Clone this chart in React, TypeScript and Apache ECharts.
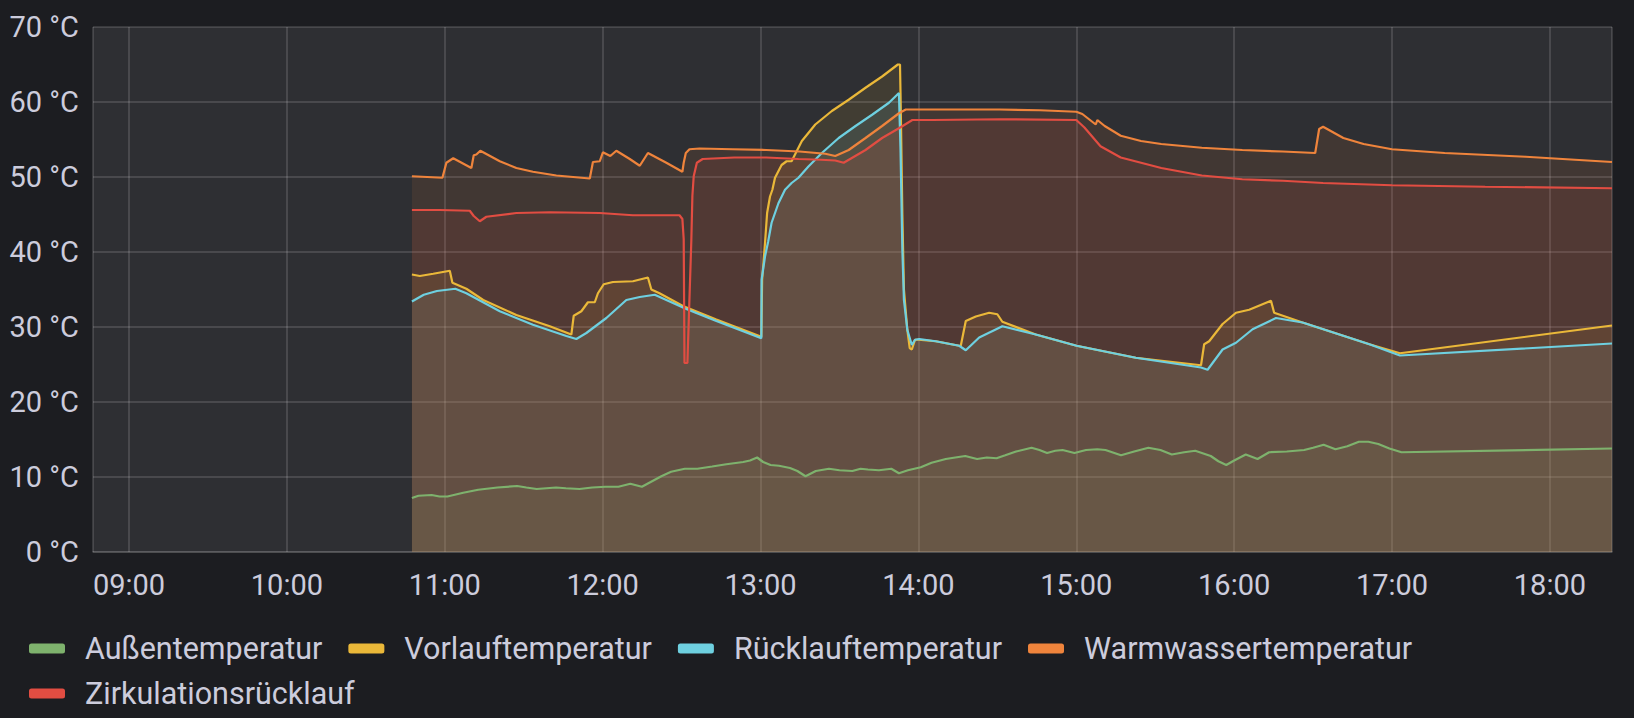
import React, { useEffect, useRef } from 'react';
import * as echarts from 'echarts';

// Series names and colours (legend order)
const SERIES_NAMES = ['Außentemperatur', 'Vorlauftemperatur', 'Rücklauftemperatur', 'Warmwassertemperatur', 'Zirkulationsrücklauf'];
const SERIES_COLORS = ['#7EB26D', '#EAB839', '#6ED0E0', '#EF843C', '#E24D42'];
const LEGEND_ROW_1 = SERIES_NAMES.slice(0, 4);
const LEGEND_ROW_2 = SERIES_NAMES.slice(4);

// [minute of day, °C]
const aussen: [number, number][] = [
  [647.5, 7.2], [650, 7.5], [655, 7.6], [658, 7.4], [661, 7.4], [667, 7.9], [672.7, 8.3], [680, 8.6], [687.5, 8.8],
  [691, 8.6], [694.9, 8.4], [702.3, 8.6], [706, 8.5], [711.2, 8.4], [716, 8.6], [721, 8.7], [726, 8.7], [730.5, 9.1],
  [734.9, 8.7], [742.3, 10.1], [746, 10.7], [751.2, 11.1], [756, 11.1], [761.6, 11.4], [767, 11.7], [773.4, 12.0],
  [776, 12.2], [778.7, 12.6], [781, 12.0], [783.8, 11.6], [787, 11.5], [791.2, 11.2], [794, 10.8], [797.1, 10.1],
  [801, 10.8], [806, 11.1], [810, 10.9], [814.9, 10.8], [818, 11.1], [820.8, 11.0], [825, 10.9], [829.7, 11.1],
  [832.6, 10.5], [836, 10.9], [840.9, 11.3], [845, 11.9], [850.4, 12.4], [854, 12.6], [857.8, 12.8], [862.3, 12.4],
  [866, 12.6], [869.7, 12.5], [873, 12.9], [877.1, 13.4], [883, 13.9], [886, 13.6], [888.9, 13.2], [892, 13.5],
  [894.8, 13.6], [899.3, 13.2], [903.7, 13.6], [908, 13.7], [911.1, 13.6], [917, 12.9], [922, 13.4], [927.4, 13.9],
  [932, 13.6], [936.3, 13.0], [941, 13.3], [945.2, 13.5], [951.1, 12.8], [954, 12.1], [957, 11.6], [960, 12.2],
  [964.4, 13.0], [968.9, 12.4], [973.3, 13.3], [980, 13.4], [986.6, 13.6], [990, 13.9], [994, 14.3], [998.5, 13.7],
  [1003, 14.1], [1007.4, 14.7], [1011, 14.7], [1014.8, 14.4], [1019, 13.8], [1023.6, 13.3], [1103.6, 13.8],
];

const vorlauf: [number, number][] = [
  [647.5, 37.0], [650.5, 36.8], [655.6, 37.1], [661.9, 37.5], [662.9, 35.9], [668.2, 35.1], [674.6, 33.6], [687.2, 31.6],
  [699.9, 30.1], [708.1, 29.0], [709, 31.5], [711.9, 32.1], [714.4, 33.3], [717, 33.3], [718.2, 34.5], [720.4, 35.7],
  [723.9, 36.0], [731.5, 36.1], [737.2, 36.6], [738.5, 35.0], [741.6, 34.5], [750.5, 32.8], [763.2, 31.0], [780.3, 28.7],
  [780.6, 36.3], [781.7, 41.2], [782.5, 45.2], [783.6, 47.4], [784.5, 48.3], [785.5, 49.9], [788, 51.6], [789.9, 52.1],
  [791.8, 52.1], [793.1, 53.0], [795.7, 54.8], [800.8, 57.0], [807.1, 58.8], [813.5, 60.3], [819.9, 61.9], [826.2, 63.4],
  [832.2, 65.0], [833, 65.0], [833.2, 61.2], [833.9, 45.0], [834.5, 35.0], [835.8, 29.6], [836.7, 27.2], [837.5, 27.0],
  [838.7, 28.3], [840, 28.3], [846.6, 28.1], [855.5, 27.5], [856.1, 27.5], [858, 30.8], [861.8, 31.4], [866.9, 31.9],
  [870, 31.7], [871.9, 30.7], [884.6, 29.0], [900.1, 27.5], [922.6, 25.9], [947.4, 24.9], [948.6, 27.7], [950.5, 28.1],
  [955.6, 30.4], [960.7, 31.9], [965.7, 32.3], [974, 33.5], [975.2, 31.9], [986, 30.6], [1011.4, 27.7], [1023, 26.5],
  [1103.6, 30.2],
];

const ruecklauf: [number, number][] = [
  [647.5, 33.4], [652, 34.3], [657, 34.8], [664, 35.1], [668.2, 34.5], [680.9, 32.1], [693.5, 30.3], [706.2, 28.8],
  [710, 28.4], [713.8, 29.2], [721.4, 31.2], [729, 33.6], [734.1, 34.0], [739.8, 34.3], [744.2, 33.6], [751.8, 32.4],
  [763.2, 30.8], [780.3, 28.5], [780.4, 36.3], [781.7, 39.4], [782.9, 41.4], [784.2, 43.9], [786.8, 46.5], [789.3, 48.3],
  [791.8, 49.2], [794.4, 49.9], [798.2, 51.4], [803.3, 53.2], [809.7, 55.2], [816.1, 56.8], [822.4, 58.3], [828.8, 59.9],
  [832.6, 61.2], [833.2, 53.6], [833.9, 40.3], [834.5, 33.6], [835.8, 29.6], [837.5, 27.6], [838.7, 28.3], [840.3, 28.4],
  [846.6, 28.1], [855.5, 27.5], [858, 26.9], [863.1, 28.6], [871.9, 30.1], [884.6, 29.0], [900.1, 27.5], [922.6, 25.9],
  [947.4, 24.6], [949.9, 24.3], [955.6, 27.0], [960.7, 27.9], [967, 29.7], [975.9, 31.2], [986, 30.6], [1011.4, 27.7],
  [1023, 26.2], [1103.6, 27.8],
];

const warmwasser: [number, number][] = [
  [647.5, 50.1], [659.1, 49.9], [660.6, 51.9], [663.2, 52.5], [670.1, 51.2], [671, 52.9], [672, 53.0], [673.5, 53.5],
  [680.9, 52.1], [687.2, 51.2], [693.5, 50.7], [702.4, 50.2], [715.1, 49.8], [716.3, 52.0], [718.9, 52.1], [720.1, 53.3],
  [722.9, 52.8], [725.2, 53.5], [730.3, 52.4], [734.1, 51.5], [737.2, 53.2], [744.2, 51.9], [750.3, 50.7], [750.8, 51.9],
  [751.6, 53.2], [753, 53.7], [756.8, 53.8], [769.5, 53.7], [782.2, 53.6], [794.8, 53.4], [804.6, 53.1], [808.4, 52.8],
  [813.5, 53.6], [819.9, 55.2], [826.2, 56.8], [832.6, 58.5], [835.2, 59.0], [845.4, 59.0], [870.8, 59.0], [886.2, 58.9],
  [900, 58.7], [902.3, 58.4], [907.4, 57.0], [908, 57.6], [910.8, 56.8], [916.9, 55.5], [924.6, 54.8], [932.3, 54.4],
  [947.7, 53.9], [963.1, 53.6], [978.5, 53.4], [990.8, 53.2], [992.3, 56.4], [993.8, 56.7], [1001.5, 55.2],
  [1009.2, 54.4], [1020, 53.7], [1040, 53.2], [1070.8, 52.7], [1103.6, 52.0],
];

const zirkulation: [number, number][] = [
  [647.5, 45.6], [658.1, 45.6], [669.5, 45.5], [671, 44.8], [673.3, 44.1], [675.8, 44.7], [687.2, 45.2], [699.9, 45.3],
  [718.9, 45.2], [731.5, 44.9], [749.2, 44.9], [750.3, 44.4], [750.8, 41.7], [751.1, 25.2], [752.2, 25.2], [753.7, 41.6],
  [754.1, 47.5], [754.6, 50.1], [755.8, 51.9], [758, 52.4], [770, 52.6], [782.2, 52.6], [794.4, 52.4], [803, 52.3],
  [808.4, 52.2], [811.6, 51.9], [819.9, 53.6], [826.2, 55.2], [832.6, 56.5], [837.7, 57.6], [845.4, 57.6], [870.8, 57.7],
  [900, 57.6], [903.1, 56.6], [909.2, 54.1], [916.9, 52.6], [932.3, 51.2], [947.7, 50.2], [963.1, 49.7], [978.5, 49.5],
  [993.8, 49.2], [1020, 48.9], [1055.4, 48.7], [1103.6, 48.5],
];

const SERIES_DATA = [aussen, vorlauf, ruecklauf, warmwasser, zirkulation];

// axis extents
const X_MIN_MINUTE = 526.3;
const X_MAX_MINUTE = 1103.6;
const Y_MIN = 0;
const Y_MAX = 70;
const Y_STEP = 10;

const DAY_START = new Date(2021, 2, 14, 0, 0, 0).getTime();
const toTs = (m: number) => DAY_START + Math.round(m * 60000);

const TEXT_COLOR = '#ccccdc';
const FONT = 'Roboto, "Noto Sans", sans-serif';
const GRID_LINE = 'rgba(255,255,255,0.13)';

const legendBase = {
  left: 29,
  padding: 0,
  icon: 'roundRect',
  itemWidth: 36,
  itemHeight: 10,
  itemGap: 26,
  textStyle: {
    color: TEXT_COLOR,
    fontSize: 30.5,
    fontFamily: FONT,
    padding: [0, 0, 0, 15],
  },
};

export default function App() {
  const ref = useRef<HTMLDivElement>(null);

  useEffect(() => {
    document.body.style.margin = '0';
    document.body.style.background = '#1c1d21';
    if (!ref.current) return;
    const chart = echarts.init(ref.current, undefined, { renderer: 'svg' });
    chart.setOption({
      animation: false,
      backgroundColor: '#1c1d21',
      grid: {
        left: 93,
        right: 22,
        top: 27,
        bottom: 166,
        show: true,
        backgroundColor: '#2e2f33',
        borderWidth: 0,
      },
      legend: [
        { ...legendBase, top: 633, data: LEGEND_ROW_1 },
        { ...legendBase, top: 678, data: LEGEND_ROW_2 },
      ],
      xAxis: {
        type: 'time',
        min: toTs(X_MIN_MINUTE),
        max: toTs(X_MAX_MINUTE),
        minInterval: 3600 * 1000,
        maxInterval: 3600 * 1000,
        splitNumber: 10,
        axisLine: { show: true, lineStyle: { color: 'rgba(255,255,255,0.1)', width: 2 } },
        axisTick: { show: false },
        axisLabel: {
          formatter: '{HH}:{mm}',
          color: TEXT_COLOR,
          fontSize: 29,
          fontFamily: FONT,
          margin: 18,
        },
        splitLine: { show: true, lineStyle: { color: GRID_LINE, width: 2 } },
      },
      yAxis: {
        type: 'value',
        min: Y_MIN,
        max: Y_MAX,
        interval: Y_STEP,
        axisLine: { show: false },
        axisTick: { show: false },
        axisLabel: {
          formatter: '{value} °C',
          color: TEXT_COLOR,
          fontSize: 29,
          fontFamily: FONT,
          margin: 14,
        },
        splitLine: { show: true, lineStyle: { color: GRID_LINE, width: 2 } },
      },
      series: SERIES_NAMES.map((name, i) => ({
        name,
        type: 'line',
        showSymbol: false,
        symbol: 'none',
        silent: true,
        color: SERIES_COLORS[i],
        itemStyle: { color: SERIES_COLORS[i] },
        lineStyle: { color: SERIES_COLORS[i], width: 2.2 },
        areaStyle: { color: SERIES_COLORS[i], opacity: 0.1 },
        data: SERIES_DATA[i].map(([m, v]) => [toTs(m), v]),
      })),
    });
    return () => chart.dispose();
  }, []);

  return <div ref={ref} style={{ width: 1634, height: 718 }} />;
}
